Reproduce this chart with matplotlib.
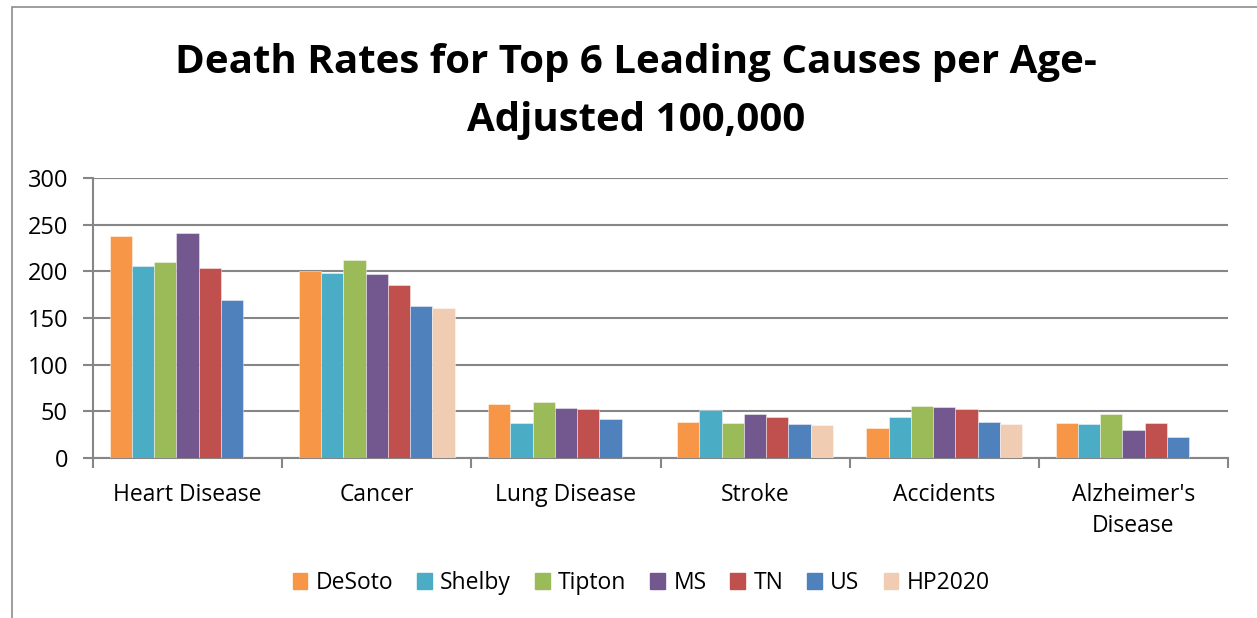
import matplotlib
matplotlib.use("Agg")
import matplotlib.pyplot as plt
import numpy as np
from matplotlib.patches import Rectangle

causes = ["Heart Disease", "Cancer", "Lung Disease", "Stroke", "Accidents", "Alzheimer's\nDisease"]
series = ["DeSoto", "Shelby", "Tipton", "MS", "TN", "US", "HP2020"]

desoto = [238, 200, 58, 39, 32, 37]
shelby = [206, 198, 38, 51, 44, 36]
tipton = [210, 212, 60, 37, 56, 47]
ms = [241, 197, 54, 47, 55, 30]
tn = [204, 185, 53, 44, 52, 37]
us = [169, 163, 42, 36, 39, 23]
hp2020 = [np.nan, 161, np.nan, 35, 36, np.nan]

values = [desoto, shelby, tipton, ms, tn, us, hp2020]
colors = ["#F79646", "#4BACC6", "#9BBB59", "#72588F", "#C0504D", "#4F81BD", "#EFCCB2"]

yticks = [0, 50, 100, 150, 200, 250, 300]

plt.rcParams["font.family"] = ["Open Sans", "DejaVu Sans"]

fig = plt.figure(figsize=(12.57, 6.18), dpi=100)
ax = fig.add_axes([93 / 1257, 1 - 458 / 618, 1135 / 1257, 280 / 618])

# outer chart border
fig.patches.append(Rectangle((12 / 1257, -0.1), 1.2, 1 - 7 / 618 + 0.1,
                             transform=fig.transFigure, fill=False,
                             edgecolor="#8C8C8C", linewidth=1.2, zorder=0))

n = len(series)
width = 1.0 / (n + 1.5)
x = np.arange(len(causes))
for i, (name, vals, c) in enumerate(zip(series, values, colors)):
    ax.bar(x + (i - (n - 1) / 2) * width, vals, width=width, color=c,
           edgecolor=(1, 1, 1, 0.5), linewidth=0.6, label=name, zorder=3)

ax.set_xlim(-0.5, len(causes) - 0.5)
ax.set_ylim(0, 300)
ax.set_yticks(yticks)
ax.set_yticklabels([str(v) for v in yticks], fontsize=17)
ax.set_xticks(x)
ax.set_xticklabels(causes, fontsize=16.5, linespacing=1.4)
ax.set_xticks(np.arange(-0.5, len(causes)), minor=True)
ax.tick_params(axis="x", which="major", length=0, pad=18)
ax.tick_params(axis="x", which="minor", length=7, width=1.5, color="#868686")
ax.tick_params(axis="y", length=7, width=1.5, color="#868686", pad=11)

ax.grid(axis="y", color="#868686", linewidth=1.5, zorder=0)
for side in ["top", "right"]:
    ax.spines[side].set_visible(False)
for side in ["left", "bottom"]:
    ax.spines[side].set_color("#868686")
    ax.spines[side].set_linewidth(1.5)

fig.text(0.506, 1 - 62 / 618, "Death Rates for Top 6 Leading Causes per Age-",
         ha="center", va="center", fontsize=29, fontweight="bold")
fig.text(0.506, 1 - 120 / 618, "Adjusted 100,000",
         ha="center", va="center", fontsize=29, fontweight="bold")

handles = [Rectangle((0, 0), 1, 1, color=c) for c in colors]
fig.legend(handles, series, loc="center", bbox_to_anchor=(0.51, 1 - 583 / 618),
           ncol=n, frameon=False, fontsize=16.5, handlelength=0.65, handleheight=0.65,
           handletextpad=0.35, columnspacing=1.05)

fig.savefig("out.png", dpi=100)
